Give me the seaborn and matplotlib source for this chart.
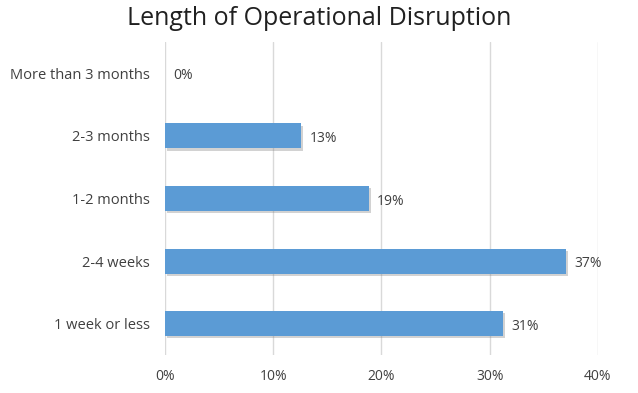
import pandas as pd
import seaborn as sns
import matplotlib.pyplot as plt
import matplotlib.patheffects as pe

categories = ['More than 3 months', '2-3 months', '1-2 months', '2-4 weeks', '1 week or less']
values = [0.0, 12.6, 18.8, 37.0, 31.2]
labels = ['0%', '13%', '19%', '37%', '31%']
xticks = [0, 10, 20, 30, 40]

df = pd.DataFrame({'Duration': categories, 'Pct': values})

sns.set_style('white')
plt.rcParams['font.family'] = ['Open Sans', 'DejaVu Sans']

fig = plt.figure(figsize=(6.38, 3.93), dpi=100)
ax = fig.add_axes([0.2586, 0.0967, 0.6787, 0.7963])

sns.barplot(x='Pct', y='Duration', data=df, orient='h', color='#5B9BD5',
            saturation=1, width=0.4, ax=ax, zorder=3, linewidth=0, edgecolor='none')
for p in ax.patches:
    p.set_path_effects([pe.SimplePatchShadow(offset=(1.5, -1.5), shadow_rgbFace='#7f7f7f', alpha=0.35), pe.Normal()])

for i, (v, lab) in enumerate(zip(values, labels)):
    ax.text(v + 0.8, i + 0.04, lab, va='center', ha='left', fontsize=10, color='#404040')

ax.set_xlim(0, 40)
ax.set_ylim(4.5, -0.5)
ax.set_xticks(xticks)
ax.set_xticklabels([f"{t}%" for t in xticks], fontsize=10, color='#404040')
ax.tick_params(axis='y', labelsize=10.5, labelcolor='#404040', length=0, pad=11)
ax.tick_params(axis='x', length=0, pad=10)
ax.grid(axis='x', color='#D9D9D9', linewidth=1, zorder=0)
for s in ax.spines.values():
    s.set_visible(False)
ax.set_xlabel('')
ax.set_ylabel('')
fig.suptitle('Length of Operational Disruption', fontsize=18, color='#202020', x=0.5, y=0.985)

fig.savefig('out.png', dpi=100)
